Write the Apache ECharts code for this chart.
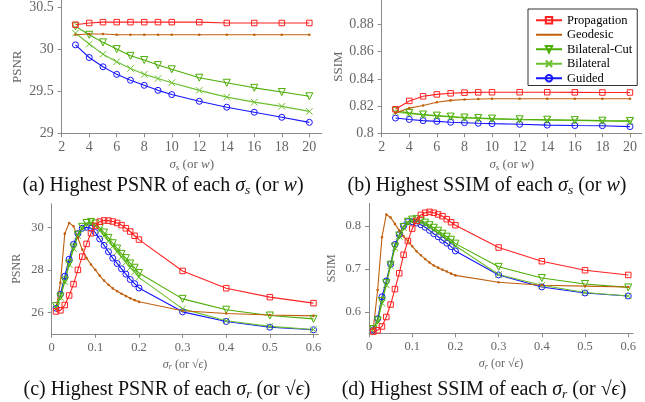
<!DOCTYPE html>
<html>
<head>
<meta charset="utf-8">
<script src="https://cdn.jsdelivr.net/npm/echarts@6/dist/echarts.min.js"></script>
<style>
  html, body { margin: 0; padding: 0; background: #fff; }
  #chart { width: 645px; height: 402px; }
</style>
</head>
<body>
<div id="chart"></div>
<script>
// x values
const sigmaS = [3, 4, 5, 6, 7, 8, 9, 10, 12, 14, 16, 18, 20];
const sigmaR = [0.01, 0.02, 0.03, 0.04, 0.05, 0.06, 0.07, 0.08, 0.09, 0.1,
  0.11, 0.12, 0.13, 0.14, 0.15, 0.16, 0.17, 0.18, 0.19, 0.2, 0.3, 0.4, 0.5, 0.6];

const methodNames = ['Propagation', 'Geodesic', 'Bilateral-Cut', 'Bilateral', 'Guided'];

// (a) PSNR vs sigma_s
const psnrS_prop = [30.29, 30.31, 30.32, 30.32, 30.32, 30.32, 30.32, 30.32, 30.32, 30.31, 30.31, 30.31, 30.31];
const psnrS_geo = [30.17, 30.18, 30.18, 30.17, 30.17, 30.17, 30.17, 30.17, 30.17, 30.17, 30.17, 30.17, 30.17];
const psnrS_cut = [30.27, 30.17, 30.08, 30.0, 29.92, 29.87, 29.81, 29.76, 29.66, 29.6, 29.54, 29.49, 29.44];
const psnrS_bil = [30.19, 30.06, 29.94, 29.85, 29.77, 29.7, 29.65, 29.6, 29.51, 29.43, 29.37, 29.32, 29.26];
const psnrS_gui = [30.05, 29.9, 29.79, 29.7, 29.63, 29.57, 29.51, 29.46, 29.38, 29.31, 29.25, 29.19, 29.13];

// (b) SSIM vs sigma_s
const ssimS_prop = [0.8177, 0.8238, 0.8272, 0.8286, 0.8294, 0.8299, 0.8301, 0.8302, 0.8302, 0.8302, 0.8301, 0.8300, 0.8300];
const ssimS_geo = [0.8150, 0.8185, 0.8204, 0.8228, 0.8242, 0.8249, 0.8252, 0.8254, 0.8254, 0.8254, 0.8254, 0.8254, 0.8254];
const ssimS_cut = [0.8165, 0.8150, 0.8138, 0.8130, 0.8123, 0.8116, 0.8113, 0.8108, 0.8103, 0.8100, 0.8097, 0.8093, 0.8091];
const ssimS_bil = [0.8155, 0.8146, 0.8135, 0.8127, 0.8120, 0.8112, 0.8110, 0.8105, 0.8100, 0.8097, 0.8094, 0.8090, 0.8088];
const ssimS_gui = [0.8112, 0.8102, 0.8093, 0.8088, 0.8081, 0.8078, 0.8074, 0.8071, 0.8066, 0.8060, 0.8057, 0.8056, 0.8049];

// (c) PSNR vs sigma_r
const psnrR_prop = [26.05, 26.1, 26.35, 26.8, 27.33, 28.0, 28.62, 29.22, 29.72, 30.06, 30.26, 30.32, 30.31, 30.27,
  30.2, 30.1, 29.95, 29.8, 29.6, 29.42, 27.95, 27.14, 26.72, 26.44];
const psnrR_geo = [26.15, 27.4, 29.7, 30.2, 30.05, 29.5, 28.95, 28.55, 28.25, 28.0, 27.73, 27.5, 27.3, 27.13,
  27.0, 26.88, 26.77, 26.67, 26.58, 26.5, 26.08, 25.95, 25.88, 25.84];
const psnrR_cut = [26.3, 26.75, 27.5, 28.3, 29.05, 29.65, 30.02, 30.2, 30.25, 30.18, 29.97, 29.75, 29.5, 29.25,
  29.0, 28.75, 28.55, 28.3, 28.1, 27.85, 26.64, 26.13, 25.86, 25.7];
const psnrR_bil = [26.25, 26.7, 27.45, 28.25, 29.0, 29.6, 29.97, 30.15, 30.2, 30.08, 29.85, 29.6, 29.35, 29.1,
  28.85, 28.6, 28.35, 28.1, 27.9, 27.65, 26.17, 25.61, 25.35, 25.2];
const psnrR_gui = [26.2, 26.85, 27.7, 28.5, 29.2, 29.7, 29.95, 30.0, 29.95, 29.75, 29.45, 29.15, 28.85, 28.55,
  28.3, 28.05, 27.8, 27.55, 27.35, 27.15, 26.03, 25.58, 25.31, 25.19];

// (d) SSIM vs sigma_r
const ssimR_prop = [0.554, 0.557, 0.566, 0.588, 0.617, 0.653, 0.69, 0.733, 0.765, 0.794, 0.812, 0.826, 0.831, 0.833,
  0.831, 0.827, 0.823, 0.816, 0.809, 0.802, 0.75, 0.718, 0.697, 0.686];
const ssimR_geo = [0.561, 0.651, 0.774, 0.827, 0.82, 0.805, 0.79, 0.776, 0.765, 0.753, 0.741, 0.732, 0.723, 0.715,
  0.708, 0.703, 0.698, 0.694, 0.689, 0.685, 0.669, 0.662, 0.66, 0.658];
const ssimR_cut = [0.56, 0.58, 0.625, 0.667, 0.71, 0.752, 0.778, 0.798, 0.81, 0.815, 0.816, 0.813, 0.808, 0.802,
  0.796, 0.789, 0.782, 0.775, 0.768, 0.759, 0.705, 0.679, 0.665, 0.657];
const ssimR_bil = [0.56, 0.578, 0.62, 0.663, 0.707, 0.749, 0.776, 0.796, 0.808, 0.812, 0.812, 0.809, 0.804, 0.798,
  0.791, 0.784, 0.777, 0.77, 0.763, 0.754, 0.687, 0.662, 0.645, 0.637];
const ssimR_gui = [0.558, 0.584, 0.635, 0.672, 0.711, 0.757, 0.78, 0.8, 0.81, 0.81, 0.807, 0.803, 0.797, 0.79,
  0.782, 0.775, 0.767, 0.76, 0.752, 0.742, 0.686, 0.658, 0.644, 0.637];

// tick labels
const ticksS = [2, 4, 6, 8, 10, 12, 14, 16, 18, 20];
const ticksR = [0, 0.1, 0.2, 0.3, 0.4, 0.5, 0.6];
const ticksPsnrS = [29, 29.5, 30, 30.5];
const ticksSsimS = [0.8, 0.82, 0.84, 0.86, 0.88];
const ticksPsnrR = [26, 28, 30];
const ticksSsimR = [0.6, 0.7, 0.8];

const SERIF = 'Liberation Serif';
const AXIS_GRAY = '#8a8a8a';
const LABEL_GRAY = '#666';

// tiny dot inside a 10x10 box, so the legend icon stays small too
const DOT = 'path://M0,0L0.01,0M10,10L9.99,10M3.7,5A1.3,1.3,0,1,0,6.3,5A1.3,1.3,0,1,0,3.7,5Z';

const styles = {
  'Propagation':   { color: '#ff2222', symbol: 'rect', size: 5.5, rotate: 0 },
  'Geodesic':      { color: '#c0600c', symbol: DOT, size: 10, rotate: 0, filled: true },
  'Bilateral-Cut': { color: '#4cae06', symbol: 'triangle', size: 7, rotate: 180 },
  'Bilateral':     { color: '#6cc030', symbol: 'path://M0,0L10,10M0,10L10,0', size: 6.5, rotate: 0 },
  'Guided':        { color: '#1515ff', symbol: 'circle', size: 6, rotate: 0 }
};

const zip = (xs, ys) => xs.map((x, i) => [x, ys[i]]);

function makeSeries(name, xs, ys, gi) {
  const st = styles[name];
  return {
    type: 'line',
    name: name,
    xAxisIndex: gi,
    yAxisIndex: gi,
    data: zip(xs, ys),
    symbol: st.symbol,
    symbolSize: st.size,
    symbolRotate: st.rotate,
    showSymbol: true,
    showAllSymbol: true,
    lineStyle: { color: st.color, width: 1.1 },
    itemStyle: {
      color: st.filled ? st.color : 'rgba(255,255,255,0)',
      borderColor: st.color,
      borderWidth: st.filled ? 0 : 1
    },
    emphasis: { disabled: true },
    z: name === 'Propagation' ? 3 : 2
  };
}

function nameRich(fs) {
  return {
    g: { fontFamily: SERIF, fontStyle: 'italic', fontSize: fs, color: LABEL_GRAY },
    s: { fontFamily: SERIF, fontStyle: 'italic', fontSize: fs * 0.7, color: LABEL_GRAY, padding: [fs * 0.45, 0, 0, 0] },
    i: { fontFamily: SERIF, fontStyle: 'italic', fontSize: fs, color: LABEL_GRAY },
    t: { fontFamily: SERIF, fontSize: fs, color: LABEL_GRAY }
  };
}

function xAxisCfg(gi, min, max, ticks, name, gap, fs, nfs) {
  return {
    type: 'value', gridIndex: gi, min: min, max: max,
    name: name, nameLocation: 'middle', nameGap: gap,
    nameTextStyle: { rich: nameRich(nfs) },
    axisLine: { show: true, onZero: false, lineStyle: { color: AXIS_GRAY, width: 1 } },
    axisTick: { show: true, length: 4, customValues: ticks, lineStyle: { color: AXIS_GRAY } },
    axisLabel: { customValues: ticks, color: LABEL_GRAY, fontFamily: SERIF, fontSize: fs, margin: 7 },
    splitLine: { show: false }
  };
}

function yAxisCfg(gi, min, max, ticks, name, gap, fs, nfs) {
  return {
    type: 'value', gridIndex: gi, min: min, max: max,
    name: name, nameLocation: 'middle', nameGap: gap,
    nameTextStyle: { color: LABEL_GRAY, fontFamily: SERIF, fontSize: nfs },
    axisLine: { show: true, onZero: false, lineStyle: { color: AXIS_GRAY, width: 1 } },
    axisTick: { show: true, length: 4, customValues: ticks, lineStyle: { color: AXIS_GRAY } },
    axisLabel: { customValues: ticks, color: LABEL_GRAY, fontFamily: SERIF, fontSize: fs, margin: 8 },
    splitLine: { show: false }
  };
}

const CAP = 20;
const capRich = {
  t: { fontFamily: SERIF, fontSize: CAP, color: '#111' },
  g: { fontFamily: SERIF, fontStyle: 'italic', fontSize: CAP, color: '#111' },
  s: { fontFamily: SERIF, fontStyle: 'italic', fontSize: 13.5, color: '#111', padding: [8, 0, 0, 0] }
};

function caption(text, x, y) {
  return {
    text: text, left: x, top: y, textAlign: 'center',
    textStyle: { rich: capRich, fontFamily: SERIF, fontSize: CAP, color: '#111', fontWeight: 'normal' }
  };
}

const chart = echarts.init(document.getElementById('chart'), null, { renderer: 'canvas' });

const series = [];
const sets = [
  [sigmaS, [psnrS_prop, psnrS_geo, psnrS_cut, psnrS_bil, psnrS_gui]],
  [sigmaS, [ssimS_prop, ssimS_geo, ssimS_cut, ssimS_bil, ssimS_gui]],
  [sigmaR, [psnrR_prop, psnrR_geo, psnrR_cut, psnrR_bil, psnrR_gui]],
  [sigmaR, [ssimR_prop, ssimR_geo, ssimR_cut, ssimR_bil, ssimR_gui]]
];
sets.forEach(([xs, ysList], gi) => {
  // draw in reverse so Propagation lands on top
  for (let k = ysList.length - 1; k >= 0; k--) {
    series.push(makeSeries(methodNames[k], xs, ysList[k], gi));
  }
});

chart.setOption({
  animation: false,
  backgroundColor: '#fff',
  title: [
    caption('{t|(a) Highest PSNR of each }{g|σ}{s|s}{t| (or }{g|w}{t|)}', 158, 170),
    caption('{t|(b) Highest SSIM of each }{g|σ}{s|s}{t| (or }{g|w}{t|)}', 482, 170),
    caption('{t|(c) Highest PSNR of each }{g|σ}{s|r}{t| (or √}{g|ϵ}{t|)}', 162, 374),
    caption('{t|(d) Highest SSIM of each }{g|σ}{s|r}{t| (or √}{g|ϵ}{t|)}', 479, 374)
  ],
  grid: [
    { left: 61.7, top: 0, width: 260, height: 133.3 },
    { left: 381.7, top: 0, width: 260, height: 133.3 },
    { left: 51.7, top: 203.8, width: 266.6, height: 130 },
    { left: 369, top: 203.3, width: 264, height: 130 }
  ],
  xAxis: [
    xAxisCfg(0, 2, 20.9, ticksS, '{g|σ}{s|s}{t| (or }{i|w}{t|)}', 24, 14, 13),
    xAxisCfg(1, 2, 20.85, ticksS, '{g|σ}{s|s}{t| (or }{i|w}{t|)}', 24, 14, 13),
    xAxisCfg(2, 0, 0.611, ticksR, '{g|σ}{s|r}{t| (or √}{i|ϵ}{t|)}', 24, 12.5, 12),
    xAxisCfg(3, 0, 0.611, ticksR, '{g|σ}{s|r}{t| (or √}{i|ϵ}{t|)}', 24, 12.5, 12)
  ],
  yAxis: [
    yAxisCfg(0, 29, 30.58, ticksPsnrS, 'PSNR', 38, 14, 13),
    yAxisCfg(1, 0.8, 0.898, ticksSsimS, 'SSIM', 37, 14, 13),
    yAxisCfg(2, 25, 31.1, ticksPsnrR, 'PSNR', 29, 12.5, 12),
    yAxisCfg(3, 0.55, 0.853, ticksSsimR, 'SSIM', 31, 12.5, 12)
  ],
  legend: {
    orient: 'vertical',
    left: 528, top: 9,
    backgroundColor: '#fff',
    borderColor: '#333', borderWidth: 1, borderRadius: 0,
    padding: [4, 5, 0, 7],
    itemWidth: 26, itemHeight: 8, itemGap: 0,
    textStyle: { fontFamily: SERIF, fontSize: 12.5, color: '#000', lineHeight: 14.5 },
    data: methodNames
  },
  series: series
});
</script>
</body>
</html>
